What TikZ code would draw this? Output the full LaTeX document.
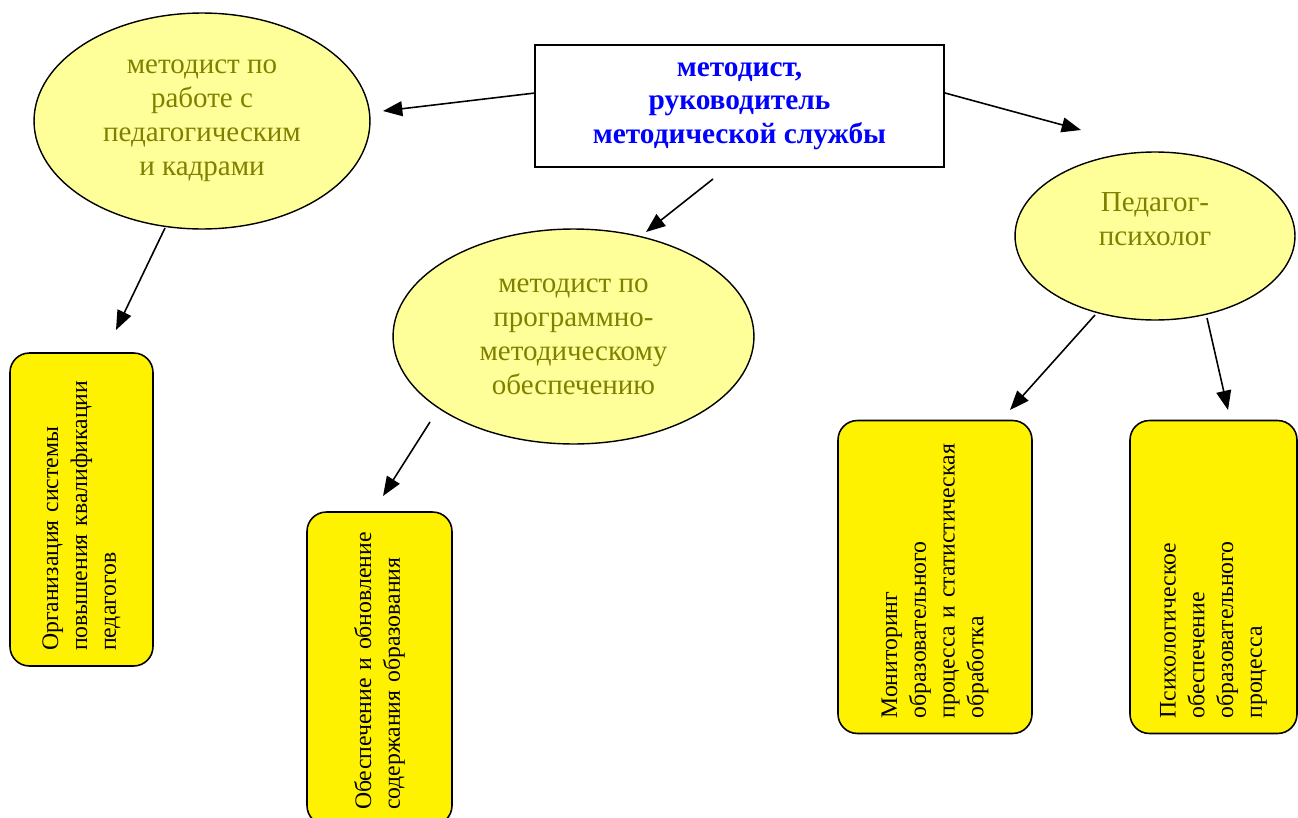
\documentclass[tikz,border=0pt]{standalone}
\usepackage{fontspec}
\setmainfont{Liberation Serif}
\usetikzlibrary{arrows.meta,shapes.geometric}
\definecolor{olivetext}{RGB}{128,128,0}
\definecolor{paleyellow}{RGB}{255,255,153}
\tikzset{>/.tip={Triangle[length=11pt,width=8.5pt]},
  chief/.style={draw, line width=1.1pt, text=blue, align=center, font=\bfseries\fontsize{16.7}{19}\selectfont},
  staff/.style={ellipse, draw, line width=0.8pt, fill=paleyellow, text=olivetext, align=center, inner sep=0pt, font=\fontsize{16.5}{19.3}\selectfont},
  duty/.style={draw, line width=0.9pt, fill=yellow, rounded corners=11pt, rotate=90, align=left, inner xsep=0.3cm, inner ysep=0pt, text width=5.66cm, font=\fontsize{13.5}{16.4}\selectfont},
  link/.style={->, line width=0.9pt}}

\begin{document}
\begin{tikzpicture}[x=0.02cm, y=-0.02cm]
\clip (0,0) rectangle (1298,818);

\node (head) at (739.5,106) [chief, minimum width=8.18cm, minimum height=2.44cm] {методист,\\руководитель\\методической службы};

\node (met-1) at (202,121) [staff, minimum width=6.72cm, minimum height=4.32cm] {методист по\\работе с\\педагогическим\\и кадрами};
\node (met-2) at (573.5,336.5) [staff, minimum width=7.22cm, minimum height=4.3cm] {методист по\\программно-\\методическому\\обеспечению};
\node (psy) at (1155,236) [staff, minimum width=5.6cm, minimum height=3.36cm] {Педагог-\\психолог\\~};

\node (duty-1) at (81.5,509.5) [duty, minimum height=2.86cm] {Организация системы\\повышения квалификации\\педагогов};
\node (duty-2) at (379.5,668.5) [duty, minimum height=2.9cm] {Обеспечение и обновление\\содержания образования};
\node (duty-3) at (935,577) [duty, minimum height=3.88cm] {Мониторинг\\образовательного\\процесса и статистическая\\обработка};
\node (duty-4) at (1213.5,577) [duty, minimum height=3.34cm] {Психологическое\\обеспечение\\образовательного\\процесса};

\coordinate (head-l) at (535,93);
\coordinate (met-1-in) at (383,111);
\coordinate (head-r) at (945,93);
\coordinate (psy-in) at (1081,130);
\coordinate (head-b) at (713,179);
\coordinate (met-2-in) at (646,232);
\coordinate (met-1-out) at (165,228);
\coordinate (duty-1-in) at (116,330);
\coordinate (met-2-out) at (430,422);
\coordinate (duty-2-in) at (383,496);
\coordinate (psy-out-l) at (1095,315);
\coordinate (duty-3-in) at (1010,410);
\coordinate (psy-out-r) at (1207,318);
\coordinate (duty-4-in) at (1228,410);

\draw[link] (head-l) -- (met-1-in);
\draw[link] (head-r) -- (psy-in);
\draw[link] (head-b) -- (met-2-in);
\draw[link] (met-1-out) -- (duty-1-in);
\draw[link] (met-2-out) -- (duty-2-in);
\draw[link] (psy-out-l) -- (duty-3-in);
\draw[link] (psy-out-r) -- (duty-4-in);
\end{tikzpicture}
\end{document}
